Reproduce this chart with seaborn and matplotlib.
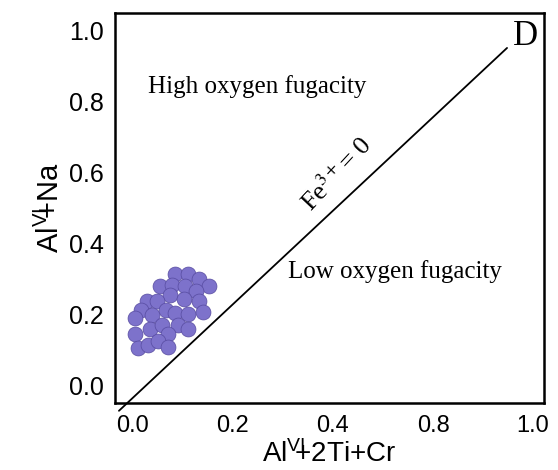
import pandas as pd
import numpy as np
import matplotlib
matplotlib.use('Agg')
import matplotlib.pyplot as plt
import seaborn as sns

# points (AlVI+2Ti+Cr , AlVI+Na)
x_vals = [0.105, 0.137, 0.165, 0.190, 0.068, 0.098, 0.130, 0.157, 0.093, 0.034,
          0.061, 0.128, 0.165, 0.020, 0.048, 0.082, 0.105, 0.138, 0.176, 0.005,
          0.005, 0.043, 0.072, 0.113, 0.138, 0.088, 0.013, 0.038, 0.063, 0.088]
y_vals = [0.316, 0.316, 0.300, 0.282, 0.282, 0.284, 0.282, 0.267, 0.255, 0.239,
          0.239, 0.244, 0.239, 0.213, 0.201, 0.213, 0.206, 0.204, 0.208, 0.190,
          0.147, 0.161, 0.173, 0.173, 0.161, 0.147, 0.107, 0.115, 0.126, 0.110]

# Fe3+ = 0 reference line
line_x = [-0.035, 0.935]
line_y = [-0.07, 0.952]

x_ticks = [0.0, 0.25, 0.5, 0.75, 1.0]
x_ticklabels = ['0.0', '0.2', '0.4', '0.8', '1.0']   # as printed on the original
y_ticks = [0.0, 0.2, 0.4, 0.6, 0.8, 1.0]
y_ticklabels = ['0.0', '0.2', '0.4', '0.6', '0.8', '1.0']

df = pd.DataFrame({'x': x_vals, 'y': y_vals})

sns.set_style('white')
plt.rcParams['font.family'] = ['Liberation Sans', 'DejaVu Sans']
plt.rcParams['text.color'] = 'black'
plt.rcParams['axes.labelcolor'] = 'black'
plt.rcParams['xtick.color'] = 'black'
plt.rcParams['ytick.color'] = 'black'
plt.rcParams['mathtext.fontset'] = 'custom'
plt.rcParams['mathtext.rm'] = 'Liberation Sans'
plt.rcParams['mathtext.it'] = 'Liberation Sans:italic'
plt.rcParams['mathtext.bf'] = 'Liberation Sans:bold'

fig = plt.figure(figsize=(5.58, 4.70), dpi=100)
ax = fig.add_axes([0.206, 0.1426, 0.769, 0.8294])

ax.plot(line_x, line_y, color='black', lw=1.3, clip_on=False, zorder=2)

sns.scatterplot(data=df, x='x', y='y', ax=ax, s=115, color='#7d72cb',
                edgecolor='#564aa0', linewidth=0.5, zorder=3, legend=False)

ax.set_xlim(-0.045, 1.0275)
ax.set_ylim(-0.048, 1.05)
ax.set_xticks(x_ticks)
ax.set_xticklabels(x_ticklabels, fontsize=17)
ax.set_yticks(y_ticks)
ax.set_yticklabels(y_ticklabels, fontsize=18)
ax.tick_params(axis='both', length=0, colors='black')
ax.tick_params(axis='x', pad=9)
ax.tick_params(axis='y', pad=8)

for sp in ax.spines.values():
    sp.set_color('black')
    sp.set_linewidth(1.8)

ax.set_xlabel(r'Al$^{\mathrm{VI}}\!\!\!$+2Ti+Cr', fontsize=20, labelpad=2)
ax.set_ylabel(r'Al$^{\mathrm{VI}}\!\!\!$+Na', fontsize=21, labelpad=3)

serif = ['Liberation Serif', 'DejaVu Serif']
ax.text(0.0375, 0.825, 'High oxygen fugacity', family=serif, fontsize=18, va='baseline')
ax.text(0.3875, 0.304, 'Low oxygen fugacity', family=serif, fontsize=18, va='baseline')
ax.text(0.98, 0.983, 'D', family=serif, fontsize=25, ha='center', va='center')
ax.text(0.51, 0.597, r'Fe$^{3+}$= 0', family=serif, math_fontfamily='stix',
        fontsize=19, rotation=47, rotation_mode='anchor', ha='center', va='center')

fig.savefig('out.png', dpi=100)
